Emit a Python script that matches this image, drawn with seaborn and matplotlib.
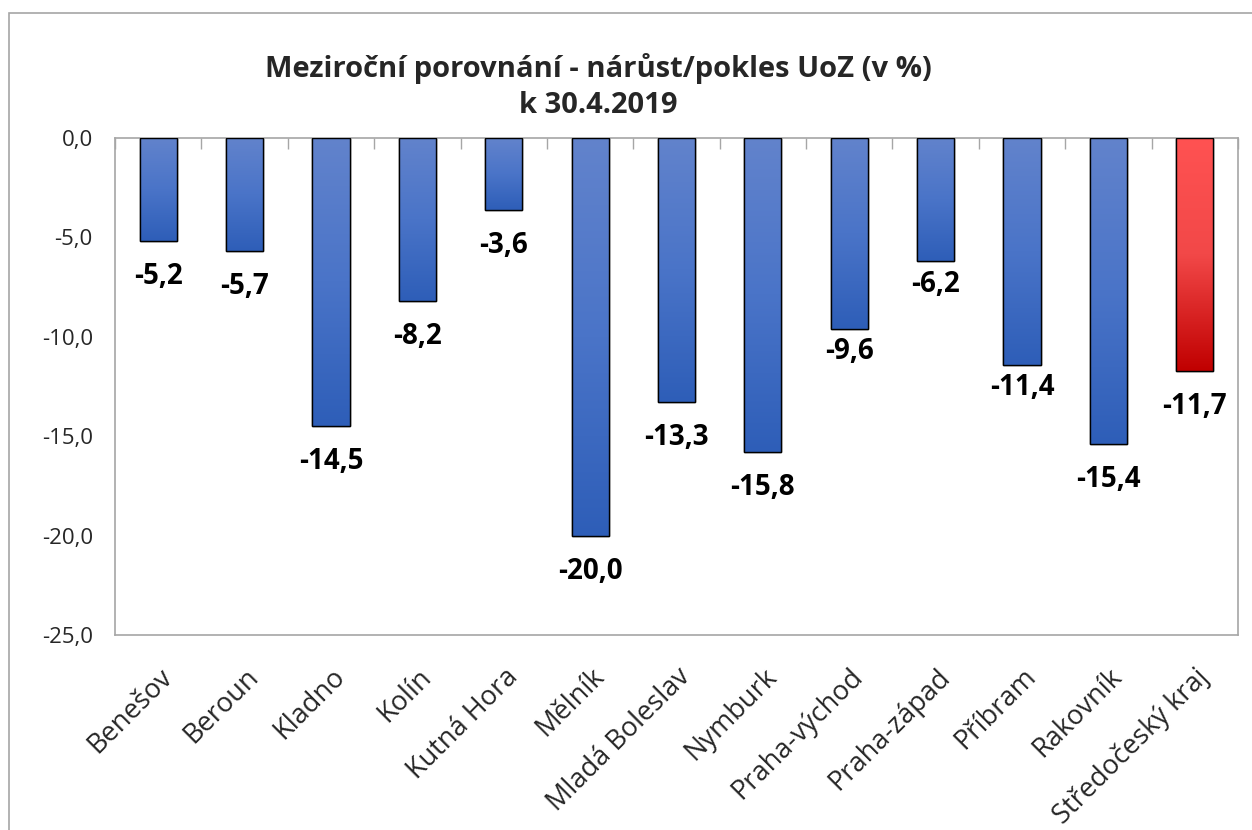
import numpy as np
import pandas as pd
import matplotlib
matplotlib.use("Agg")
import matplotlib.pyplot as plt
from matplotlib.ticker import FuncFormatter, FixedLocator
from matplotlib.colors import LinearSegmentedColormap
from matplotlib.patches import Rectangle
import seaborn as sns

# data
okresy = ["Benešov", "Beroun", "Kladno", "Kolín", "Kutná Hora", "Mělník",
          "Mladá Boleslav", "Nymburk", "Praha-východ", "Praha-západ",
          "Příbram", "Rakovník", "Středočeský kraj"]
zmena = [-5.2, -5.7, -14.5, -8.2, -3.6, -20.0, -13.3, -15.8, -9.6, -6.2, -11.4, -15.4, -11.7]
title_lines = ["Meziroční porovnání - nárůst/pokles UoZ (v %)", "k 30.4.2019"]

df = pd.DataFrame({"okres": okresy, "zmena": zmena})

sns.set_style("white")
plt.rcParams["font.family"] = ["Open Sans", "DejaVu Sans"]

fig = plt.figure(figsize=(12.52, 8.30), dpi=100)
ax = fig.add_axes([0.0919, 0.2349, 0.8969, 0.5988])

sns.barplot(data=df, x="okres", y="zmena", width=0.43, color="#4472c4",
            edgecolor="black", linewidth=1.0, ax=ax, zorder=2)

# gradients like in Excel
blue = LinearSegmentedColormap.from_list("b", ["#6283cc", "#4a74c8", "#2e5eb8"])
red = LinearSegmentedColormap.from_list("r", ["#ff5252", "#f24848", "#c00000"])
grad = np.linspace(0, 1, 256).reshape(-1, 1)
bars = list(ax.patches)
for i, p in enumerate(bars):
    x0 = p.get_x()
    w = p.get_width()
    h = p.get_height()
    cmap = red if i == len(bars) - 1 else blue
    im = ax.imshow(grad, cmap=cmap, aspect="auto", extent=[x0, x0 + w, h, 0],
                   origin="upper", zorder=2.5)
    im.set_clip_path(p)
    ax.add_patch(Rectangle((x0, 0), w, h, fill=False, edgecolor="black",
                           linewidth=1.0, zorder=3))

ax.set_xlim(-0.5, len(okresy) - 0.5)
ax.set_ylim(-25, 0)
ax.set_xlabel("")
ax.set_ylabel("")

# value labels under each bar (a few sit closer to the bar in the original)
closer = {"Praha-východ", "Praha-západ", "Příbram"}
for i, v in enumerate(zmena):
    off = -22 if okresy[i] in closer else -31
    ax.annotate(f"{v:.1f}".replace(".", ","), (i, v), xytext=(0, off),
                textcoords="offset points", ha="center", va="baseline",
                fontsize=20, fontweight="bold", color="black")

ax.yaxis.set_major_locator(FixedLocator([0, -5, -10, -15, -20, -25]))
ax.yaxis.set_major_formatter(FuncFormatter(lambda y, pos: f"{y:.1f}".replace(".", ",")))
ax.tick_params(axis="y", which="major", direction="out", length=6, width=1,
               color="#a6a6a6", labelsize=16, pad=10)

ax.set_xticks(range(len(okresy)))
ax.set_xticklabels(okresy, rotation=45, ha="right", rotation_mode="anchor", fontsize=19.5)
ax.tick_params(axis="x", which="major", length=0, pad=20)
ax.set_xticks(np.arange(-0.5, len(okresy)), minor=True)
ax.tick_params(axis="x", which="minor", direction="in", length=8, width=1,
               color="#a6a6a6", top=True, bottom=False)

for s in ax.spines.values():
    s.set_color("#a6a6a6")
    s.set_linewidth(1.2)

fig.text(0.478, 0.918, title_lines[0], ha="center", va="center",
         fontsize=21, fontweight="bold")
fig.text(0.478, 0.873, title_lines[1], ha="center", va="center",
         fontsize=21, fontweight="bold")

# outer chart frame
fig.patches.append(Rectangle((9 / 1252, -0.01), 1.2, 1 - 13 / 830 + 0.01,
                             transform=fig.transFigure, fill=False,
                             edgecolor="#a6a6a6", linewidth=1.2))

fig.savefig("out.png", dpi=100)
